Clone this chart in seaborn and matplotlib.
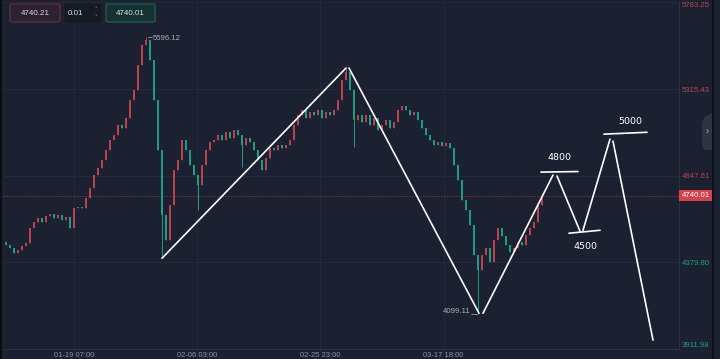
import numpy as np
import matplotlib
matplotlib.use('Agg')
import matplotlib.pyplot as plt
import seaborn as sns
from matplotlib.patches import FancyBboxPatch, Polygon
from matplotlib.lines import Line2D

# candle closes, one per bar
closes = [4473, 4457, 4430, 4446, 4468, 4484, 4565, 4597, 4619, 4597,
          4630, 4640, 4619, 4635, 4608, 4624, 4565, 4673, 4678, 4673,
          4727, 4781, 4851, 4889, 4932, 4986, 5040, 5067, 5121, 5105,
          5159, 5256, 5310, 5445, 5553, 5580, 5472, 5256, 4986, 4635,
          4500, 4689, 4878, 4932, 5040, 4986, 4905, 4851, 4797, 4905,
          4986, 5029, 5040, 5067, 5040, 5083, 5051, 5094, 5067, 5013,
          5051, 5029, 4986, 4932, 4878, 4943, 4997, 4986, 5013, 4997,
          5013, 5040, 5121, 5175, 5202, 5159, 5191, 5175, 5202, 5159,
          5191, 5175, 5202, 5256, 5364, 5407, 5310, 5148, 5175, 5137,
          5175, 5121, 5159, 5094, 5121, 5148, 5105, 5137, 5202, 5224,
          5202, 5175, 5191, 5148, 5105, 5067, 5040, 5013, 5029, 5008,
          5024, 4997, 4905, 4824, 4716, 4662, 4581, 4419, 4338, 4419,
          4457, 4381, 4500, 4565, 4522, 4473, 4435, 4457, 4489, 4473,
          4527, 4565, 4597, 4689, 4740.01]
first_open = 4490
# bars with long wicks
wick_idx = [35, 39, 48, 59, 85, 87, 118]
wick_val = [5596.12, 4402, 4660, 4895, 5430, 5000, 4099.11]

price_ticks = [5783.25, 5315.43, 4847.61, 4379.80, 3911.98]
price_labels = ['5783.25', '5315.43', '4847.61', '4379.80', '3911.98']
time_pos = [17.1, 47.85, 78.5, 109.4]
time_labels = ['01-19 07:00', '02-06 03:00', '02-25 23:00', '03-17 18:00']
last_price = 4740.01

# hand drawn pattern (bar index, price)
seg_x = [[39.0, 85.0], [85.75, 118.25], [119.25, 136.75], [133.75, 143.0],
         [137.75, 143.5], [140.75, 148.5], [144.25, 151.0], [149.5, 160.25],
         [151.75, 161.75]]
seg_y = [[4402, 5429], [5429, 4105], [4105, 4851], [4867, 4870],
         [4846, 4548], [4537, 4553], [4553, 5045], [5072, 5082],
         [5034, 3960]]
target_text = ['4800', '4500', '5000']
target_x = [138.5, 145.0, 156.0]
target_y = [4948, 4467, 5142]

bg = '#1b2130'
grid_c = '#242c3a'
up_c = '#b8434f'
down_c = '#1f9c82'

sns.set_theme(style='dark', rc={'axes.facecolor': bg, 'figure.facecolor': bg,
                                'axes.grid': True, 'grid.color': grid_c,
                                'grid.linewidth': 0.6})
plt.rcParams['font.family'] = ['Liberation Sans', 'DejaVu Sans']

fig = plt.figure(figsize=(7.2, 3.59), dpi=100)
ax = fig.add_axes([3/720, 10/359, 676/720, 346.6/359])

# candles
n = len(closes)
idx = np.arange(n)
c = np.array(closes, dtype=float)
o = np.concatenate([[first_open], c[:-1]])
hi = np.maximum(o, c)
lo = np.minimum(o, c)
for i, v in zip(wick_idx, wick_val):
    if v > hi[i]:
        hi[i] = v
    else:
        lo[i] = v
cols = np.where(c >= o, up_c, down_c)
ax.vlines(idx, lo, hi, colors=cols, lw=0.7, zorder=2)
body = np.maximum(hi - lo, 0)
body = np.maximum(np.abs(c - o), 6)
ax.bar(idx, body, bottom=np.minimum(o, c), width=0.55, color=cols, lw=0, zorder=2)

# last price line
ax.axhline(last_price, color='#743440', lw=0.7, ls=(0, (1.5, 1.5)), zorder=1)

# pattern lines
for xs, ys in zip(seg_x, seg_y):
    ax.plot(xs, ys, color='white', lw=1.2, solid_capstyle='round', zorder=4)
for t, x, y in zip(target_text, target_x, target_y):
    ax.text(x, y, t, color='white', fontsize=6.8, ha='center', va='center',
            family='DejaVu Sans', zorder=5)

# high / low markers
ax.plot([35.5, 36.6], [5596.12, 5596.12], color='#9aa1ad', lw=0.6)
ax.text(36.75, 5590, '5596.12', color='#a7adb8', fontsize=5.6, ha='left', va='center')
ax.plot([116.3, 117.8], [4099.11, 4099.11], color='#9aa1ad', lw=0.6)
ax.text(116.1, 4112, '4099.11', color='#a7adb8', fontsize=5.6, ha='right', va='center')

ax.set_xlim(-0.75, 168.25)
ax.set_ylim(3911.98, 5783.25)
ax.yaxis.tick_right()
ax.set_yticks(price_ticks)
ax.set_yticklabels(price_labels)
ax.set_xticks(time_pos)
ax.set_xticklabels(time_labels)
ax.tick_params(axis='y', length=0, pad=2, labelsize=5.6)
ax.tick_params(axis='x', length=0, pad=2.5, labelsize=5.5, labelcolor='#8b93a1')
ylabs = ax.get_yticklabels()
for k, lab in enumerate(ylabs):
    lab.set_color(up_c if price_ticks[k] > last_price else '#1f9c82')
ylabs[0].set_va('top')
ylabs[-1].set_va('bottom')
for s in ['top', 'left']:
    ax.spines[s].set_visible(False)
for s in ['bottom', 'right']:
    ax.spines[s].set_color('#2a3240')
    ax.spines[s].set_linewidth(0.8)

# current price tag
ax.text(1.004, last_price, '4740.01', transform=ax.get_yaxis_transform(),
        color='white', fontsize=5.6, ha='left', va='center', clip_on=False,
        bbox=dict(boxstyle='square,pad=0.3', fc='#d9404d', ec='none'))

# top-left widgets
def fx(x):
    return x / 720

def fy(y):
    return 1 - y / 359

def box(x0, y0, x1, y1, fc, ec):
    fig.patches.append(FancyBboxPatch((fx(x0), fy(y1)), fx(x1 - x0), (y1 - y0) / 359,
                                      boxstyle='round,pad=0,rounding_size=0.004',
                                      fc=fc, ec=ec, lw=0.8, transform=fig.transFigure))

box(10, 4, 60, 22, '#2a2231', '#6d2f3a')
box(65, 4, 101, 22, '#151a25', '#151a25')
box(106, 4, 155, 22, '#163230', '#1b6a5d')
fig.text(fx(35), fy(13.5), '4740.21', color='#e7d2d6', fontsize=5.8, ha='center', va='center')
fig.text(fx(76), fy(13.5), '0.01', color='#d5d9e0', fontsize=5.8, ha='center', va='center')
fig.text(fx(96), fy(10), '˄', color='#8b93a1', fontsize=4, ha='center', va='center', family='DejaVu Sans')
fig.text(fx(96), fy(17), '˅', color='#8b93a1', fontsize=4, ha='center', va='center', family='DejaVu Sans')
fig.text(fx(130.5), fy(13.5), '4740.01', color='#d5ece7', fontsize=5.8, ha='center', va='center')

# edges and side tab
fig.lines.append(Line2D([fx(1), fx(1)], [0, 1], color='#0b0e14', lw=1.5, transform=fig.transFigure))
fig.lines.append(Line2D([fx(713), fx(713)], [0, 1], color='#0b0e14', lw=1.2, transform=fig.transFigure))
fig.patches.append(Polygon([(fx(712), fy(113)), (fx(705), fy(117)), (fx(702), fy(122)),
                            (fx(702), fy(146)), (fx(705), fy(150)), (fx(712), fy(150))],
                           closed=True, fc='#2d3543', ec='none', transform=fig.transFigure))
fig.text(fx(707), fy(131), '›', color='#a0a7b2', fontsize=7, ha='center', va='center')

fig.savefig('out.png', dpi=100, facecolor=bg)
